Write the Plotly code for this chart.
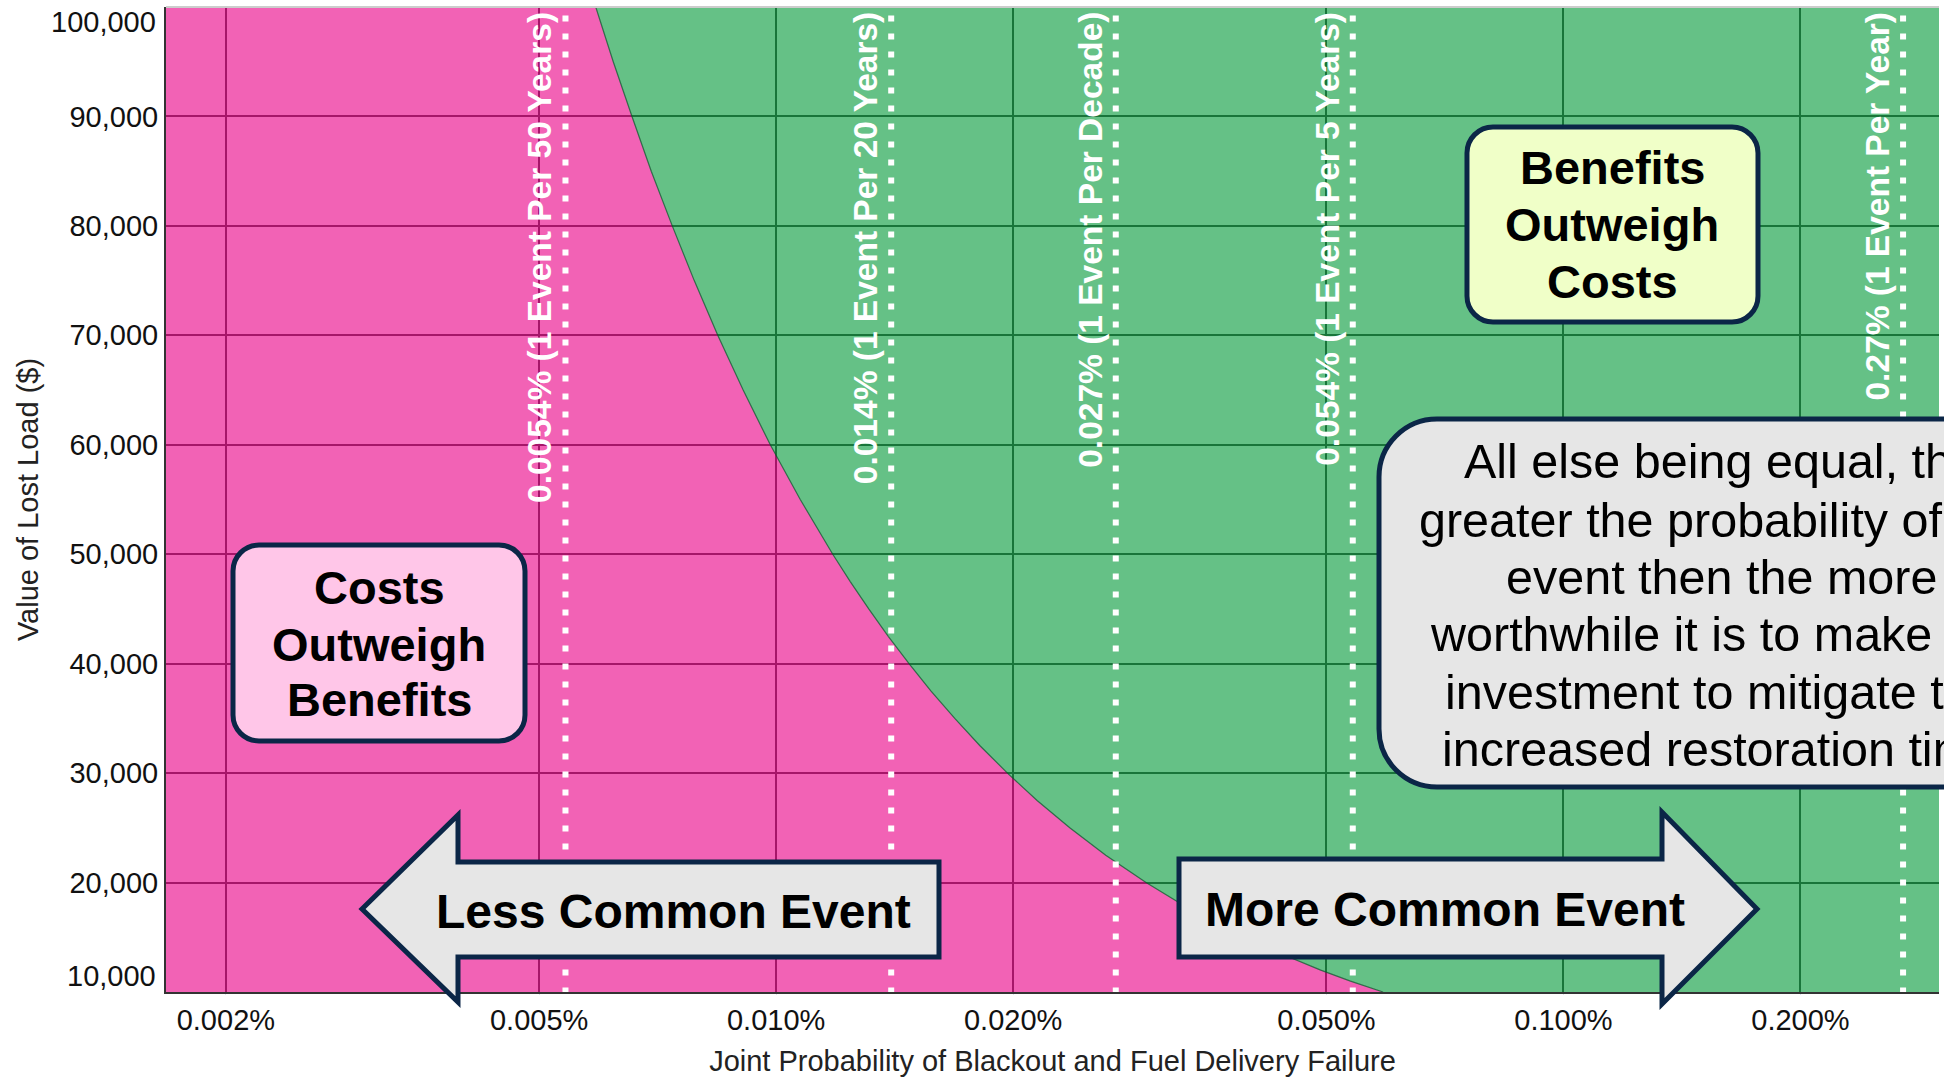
import math
import plotly.graph_objects as go

# ---------------- data ----------------
# break-even boundary: Value of Lost Load vs joint probability (fraction)
boundary_voll = [100000, 95000, 90000, 85000, 80000, 75000, 70000, 65000, 60000, 55000,
                 50000, 47500, 45000, 42500, 40000, 37500, 35000, 32500, 30000, 27500,
                 25000, 22500, 20000, 18000, 16000, 14000, 12000, 11000, 10000]
boundary_prob = [0.0000590, 0.0000621, 0.0000656, 0.0000694, 0.0000738, 0.0000787, 0.0000843,
                 0.0000908, 0.0000983, 0.0001073, 0.0001180, 0.0001242, 0.0001311, 0.0001388,
                 0.0001475, 0.0001573, 0.0001686, 0.0001815, 0.0001967, 0.0002145, 0.0002360,
                 0.0002622, 0.0002950, 0.0003278, 0.0003688, 0.0004214, 0.0004917, 0.0005364,
                 0.0005900]

event_prob = [0.000054, 0.00014, 0.00027, 0.00054, 0.0027]
event_labels = ["0.0054% (1 Event Per 50 Years)", "0.014% (1 Event Per 20 Years)",
                "0.027% (1 Event Per Decade)", "0.054% (1 Event Per 5 Years)",
                "0.27% (1 Event Per Year)"]

x_tickvals = [0.00002, 0.00005, 0.0001, 0.0002, 0.0005, 0.001, 0.002]
y_tickvals = [10000, 20000, 30000, 40000, 50000, 60000, 70000, 80000, 90000, 100000]

x_title = "Joint Probability of Blackout and Fuel Delivery Failure"
y_title = "Value of Lost Load ($)"

costs_box_lines = ["Costs", "Outweigh", "Benefits"]
benefits_box_lines = ["Benefits", "Outweigh", "Costs"]
note_lines = ["All else being equal, the", "greater the probability of the", "event then the more",
              "worthwhile it is to make the", "investment to mitigate the",
              "increased restoration time"]
less_label = "Less Common Event"
more_label = "More Common Event"

# ---------------- layout geometry ----------------
W, H = 1944, 1077
L, R, T, B = 166, 1939, 7, 992
FONT = "Liberation Sans, Arial, sans-serif"
NAVY = "#0b2647"


def px(x):
    return (x - L) / (R - L)


def py(y):
    return (B - y) / (B - T)


def pt(x, y):
    return f"{px(x):.5f},{py(y):.5f}"


def rrect_path(x0, y0, x1, y1, r):
    k = 0.5523 * r
    p = [f"M {pt(x0 + r, y0)}", f"L {pt(x1 - r, y0)}",
         f"C {pt(x1 - r + k, y0)} {pt(x1, y0 + r - k)} {pt(x1, y0 + r)}",
         f"L {pt(x1, y1 - r)}",
         f"C {pt(x1, y1 - r + k)} {pt(x1 - r + k, y1)} {pt(x1 - r, y1)}",
         f"L {pt(x0 + r, y1)}",
         f"C {pt(x0 + r - k, y1)} {pt(x0, y1 - r + k)} {pt(x0, y1 - r)}",
         f"L {pt(x0, y0 + r)}",
         f"C {pt(x0, y0 + r - k)} {pt(x0 + r - k, y0)} {pt(x0 + r, y0)}", "Z"]
    return " ".join(p)


def poly_path(points):
    return "M " + " L ".join(pt(x, y) for x, y in points) + " Z"


fig = go.Figure()

# regions (semi-transparent so the black grid shows through darkened)
x_lo, x_hi, y_lo, y_hi = 1e-7, 1.0, 0, 200000
fig.add_trace(go.Scatter(
    x=[x_lo, boundary_prob[0]] + boundary_prob + [boundary_prob[-1], x_lo],
    y=[y_hi, y_hi] + boundary_voll + [y_lo, y_lo],
    fill="toself", fillcolor="rgba(236,32,149,0.70)", mode="lines",
    line=dict(width=0), hoverinfo="skip", showlegend=False))
fig.add_trace(go.Scatter(
    x=[x_hi, boundary_prob[0]] + boundary_prob + [boundary_prob[-1], x_hi],
    y=[y_hi, y_hi] + boundary_voll + [y_lo, y_lo],
    fill="toself", fillcolor="rgba(36,166,82,0.70)", mode="lines",
    line=dict(width=0), hoverinfo="skip", showlegend=False))
fig.add_trace(go.Scatter(
    x=boundary_prob, y=boundary_voll, mode="lines",
    line=dict(color="rgba(20,90,50,0.8)", width=1.2), showlegend=False))

# event reference lines
for p in event_prob:
    fig.add_trace(go.Scatter(x=[p, p], y=[y_lo, y_hi], mode="lines",
                             line=dict(color="white", width=6, dash="6px,12px"),
                             showlegend=False, hoverinfo="skip"))

annotations = []
for p, lab in zip(event_prob, event_labels):
    annotations.append(dict(x=math.log10(p), xref="x", y=1, yref="paper",
                            text=f"<b>{lab}</b>", textangle=-90, showarrow=False,
                            xanchor="center", yanchor="top", xshift=-26, yshift=-3,
                            font=dict(family=FONT, size=33.5, color="white")))

# edge y tick labels (nudged inside the plot height like the reference)
for v, ypix in ((y_tickvals[-1], 22), (y_tickvals[0], 976)):
    annotations.append(dict(x=px(158), y=py(ypix), xref="paper", yref="paper",
                            text=f"{v:,}", showarrow=False, xanchor="right",
                            yanchor="middle", font=dict(family=FONT, size=29, color="#111111")))

shapes = []
# top border
shapes.append(dict(type="line", xref="paper", yref="paper", x0=0, x1=1, y0=1, y1=1,
                   line=dict(color="#cccccc", width=2)))

# boxes
shapes.append(dict(type="path", xref="paper", yref="paper",
                   path=rrect_path(233, 545, 525, 741, 26),
                   fillcolor="#ffc6e8", line=dict(color=NAVY, width=5)))
shapes.append(dict(type="path", xref="paper", yref="paper",
                   path=rrect_path(1467, 127, 1758, 322, 26),
                   fillcolor="#f0ffc8", line=dict(color=NAVY, width=5)))
shapes.append(dict(type="path", xref="paper", yref="paper",
                   path=rrect_path(1379, 419, 2060, 787, 58),
                   fillcolor="#e6e6e6", line=dict(color=NAVY, width=5)))

# arrows
shapes.append(dict(type="path", xref="paper", yref="paper",
                   path=poly_path([(362, 909), (458, 815), (458, 862), (939, 862),
                                   (939, 957), (458, 957), (458, 1002)]),
                   fillcolor="#e6e6e6", line=dict(color=NAVY, width=5)))
shapes.append(dict(type="path", xref="paper", yref="paper",
                   path=poly_path([(1179, 859), (1662, 859), (1662, 812), (1757, 909),
                                   (1662, 1004), (1662, 957), (1179, 957)]),
                   fillcolor="#e6e6e6", line=dict(color=NAVY, width=5)))


def add_lines(lines, cx, ys, size, bold):
    for t, y in zip(lines, ys):
        annotations.append(dict(x=px(cx), y=py(y), xref="paper", yref="paper",
                                text=f"<b>{t}</b>" if bold else t, showarrow=False,
                                xanchor="center", yanchor="middle",
                                font=dict(family=FONT, size=size, color="black")))


add_lines(costs_box_lines, 379, [587, 644, 699], 47, True)
add_lines(benefits_box_lines, 1612, [167, 224, 281], 47, True)
add_lines(note_lines, 1721, [461, 520, 577, 634, 692, 749], 48.5, False)
add_lines([less_label], 673, [911], 48, True)
add_lines([more_label], 1445, [909], 48, True)

fig.update_layout(
    width=W, height=H, autosize=False,
    margin=dict(l=L, r=W - R, t=T, b=H - B, pad=0),
    paper_bgcolor="white", plot_bgcolor="white",
    font=dict(family=FONT, size=29, color="#111111"),
    showlegend=False,
    shapes=shapes, annotations=annotations,
    xaxis=dict(type="log", range=[-4.775, -2.523], tickvals=x_tickvals, tickformat=".3%",
               showgrid=True, gridcolor="black", gridwidth=2, zeroline=False,
               showline=True, linecolor="#333333", linewidth=2,
               ticks="outside", ticklen=1, tickcolor="#dde3ee",
               tickfont=dict(size=29, color="#111111"),
               title=dict(text=x_title, font=dict(size=29, color="#222222"), standoff=17)),
    yaxis=dict(range=[10000, 100000], tickvals=y_tickvals[1:-1], tickformat=",",
               showgrid=True, gridcolor="black", gridwidth=2, zeroline=False,
               showline=True, linecolor="#333333", linewidth=2,
               ticks="", tickfont=dict(size=29, color="#111111"),
               title=dict(text=y_title, font=dict(size=29, color="#222222"), standoff=22)),
)

fig.write_html("out.html", config={"displayModeBar": False},
               post_script="document.body.style.margin='0';document.body.style.overflow='hidden';")
